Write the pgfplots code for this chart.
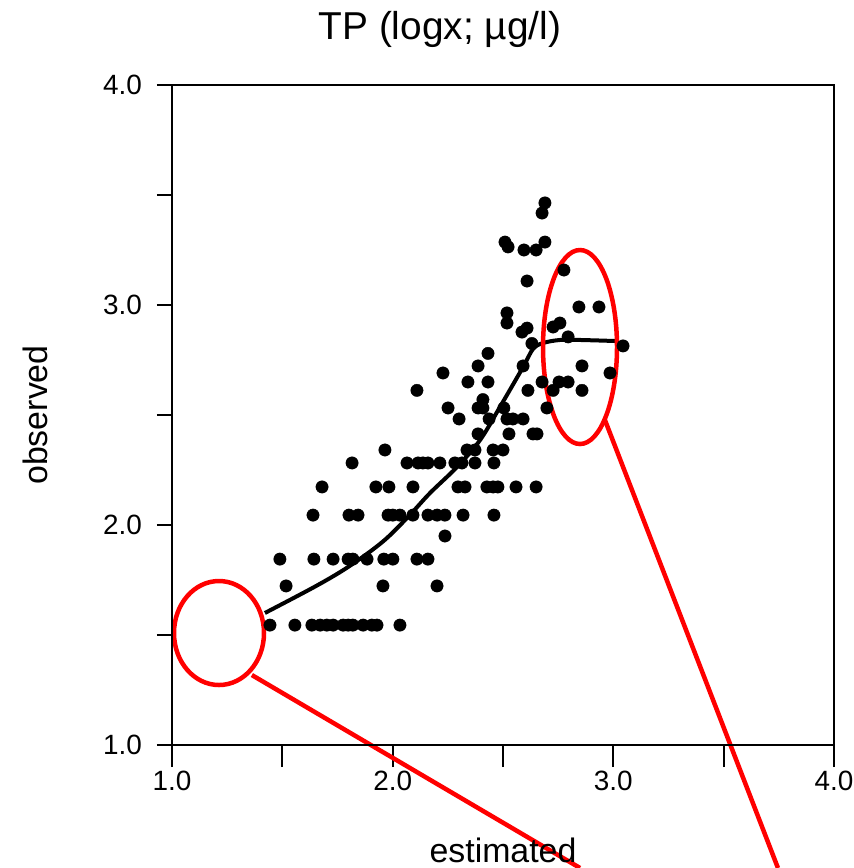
\documentclass[border=0pt]{standalone}
\usepackage{fontspec}
\setmainfont{Liberation Sans}
\usepackage{pgfplots}
\pgfplotsset{compat=1.18}
\begin{document}
\begin{tikzpicture}[x=1bp,y=1bp]
\pgfplotsset{common/.style={
  at={(0,0)}, anchor=south west,
  scale only axis, width=662bp, height=660bp,
  xmin=1, xmax=4, ymin=1, ymax=4,
  clip=false,
  axis line style={line width=1.8bp},
  tick align=outside, xtick pos=bottom, ytick pos=left,
  every tick/.style={line width=1.8bp, black},
  /pgf/number format/assume math mode=true,
}}
\begin{axis}[common,
  ytick=\empty,
  xtick={1,2,3,4}, minor xtick={1.5,2.5,3.5},
  xticklabels={1.0,2.0,3.0,4.0},
  major tick length=22bp, minor tick length=22bp,
  xticklabel style={font=\fontsize{28}{30}\selectfont, inner sep=0pt, yshift=-4bp},
]
\addplot[only marks, mark=*, mark size=6.2bp, black] coordinates {
(1.444,1.545)(1.557,1.545)(1.634,1.545)(1.671,1.545)(1.702,1.545)(1.730,1.545)(1.775,1.545)(1.798,1.545)(1.820,1.545)(1.866,1.545)(1.906,1.545)(1.929,1.545)(2.033,1.545)
(1.517,1.723)(1.956,1.723)(2.201,1.723)
(1.489,1.845)(1.643,1.845)(1.730,1.845)(1.798,1.845)(1.820,1.845)(1.884,1.845)(1.960,1.845)(2.001,1.845)(2.110,1.845)(2.160,1.845)
(2.237,1.950)
(1.639,2.045)(1.802,2.045)(1.843,2.045)(1.979,2.045)(2.001,2.045)(2.033,2.045)(2.092,2.045)(2.160,2.045)(2.201,2.045)(2.237,2.045)(2.319,2.045)(2.459,2.045)
(1.680,2.173)(1.924,2.173)(1.983,2.173)(2.092,2.173)(2.296,2.173)(2.328,2.173)(2.427,2.173)(2.455,2.173)(2.477,2.173)(2.559,2.173)(2.650,2.173)
(1.816,2.282)(2.065,2.282)(2.115,2.282)(2.137,2.282)(2.160,2.282)(2.214,2.282)(2.282,2.282)(2.314,2.282)(2.373,2.282)(2.459,2.282)
(1.965,2.341)(2.337,2.341)(2.373,2.341)(2.455,2.341)(2.500,2.341)
(2.387,2.414)(2.527,2.414)(2.636,2.414)(2.654,2.414)
(2.301,2.482)(2.437,2.482)(2.518,2.482)(2.545,2.482)(2.591,2.482)
(2.251,2.532)(2.387,2.532)(2.409,2.532)(2.504,2.532)(2.699,2.532)
(2.409,2.570)
(2.110,2.612)(2.613,2.612)(2.727,2.612)(2.858,2.612)
(2.341,2.650)(2.432,2.650)(2.677,2.650)(2.754,2.650)(2.795,2.650)
(2.228,2.691)(2.985,2.691)
(2.387,2.723)(2.591,2.723)(2.858,2.723)
(2.432,2.780)
(2.631,2.825)
(3.044,2.814)
(2.795,2.855)
(2.586,2.877)
(2.609,2.895)
(2.727,2.900)(2.758,2.918)
(2.518,2.918)(2.518,2.964)
(2.844,2.991)(2.935,2.991)
(2.609,3.109)
(2.776,3.159)
(2.595,3.250)(2.650,3.250)
(2.509,3.286)(2.690,3.286)(2.523,3.264)
(2.677,3.418)
(2.690,3.464)
};
\addplot[black, line width=4bp, smooth, tension=0.55] coordinates {
(1.421,1.600)(1.657,1.725)(1.807,1.815)(1.956,1.925)(2.069,2.036)(2.169,2.145)(2.292,2.264)(2.396,2.386)(2.486,2.536)(2.591,2.718)(2.636,2.800)(2.681,2.827)(2.758,2.841)(2.849,2.841)(3.017,2.836)
};
% annotations
\draw[red, line width=4.5bp] (axis cs:1.213,1.509) ellipse [x radius=45bp, y radius=52bp];
\draw[red, line width=4.5bp] (axis cs:2.849,2.809) ellipse [x radius=37bp, y radius=97bp];
\draw[red, line width=4.5bp] (axis cs:1.362,1.318) -- (axis cs:2.849,0.441);
\draw[red, line width=4.5bp] (axis cs:2.962,2.477) -- (axis cs:3.746,0.441);
% titles
\node[anchor=base, font=\fontsize{39}{42}\selectfont] at (axis cs:2.214,4.209) {TP (logx; µg/l)};
\node[anchor=base, font=\fontsize{34}{36}\selectfont] at (axis cs:2.50,0.468) {estimated};
\node[rotate=90, anchor=center, font=\fontsize{34}{36}\selectfont] at (axis cs:0.379,2.5) {observed};
\end{axis}
\begin{axis}[common,
  xtick=\empty,
  ytick={1,2,3,4}, minor ytick={1.5,2.5,3.5},
  yticklabels={1.0,2.0,3.0,4.0},
  major tick length=15bp, minor tick length=15bp,
  yticklabel style={font=\fontsize{28}{30}\selectfont, inner sep=0pt, xshift=-15bp},
]
\end{axis}
\pgfresetboundingbox
\path (-172bp,-123bp) rectangle (682bp,745bp);
\end{tikzpicture}
\end{document}
